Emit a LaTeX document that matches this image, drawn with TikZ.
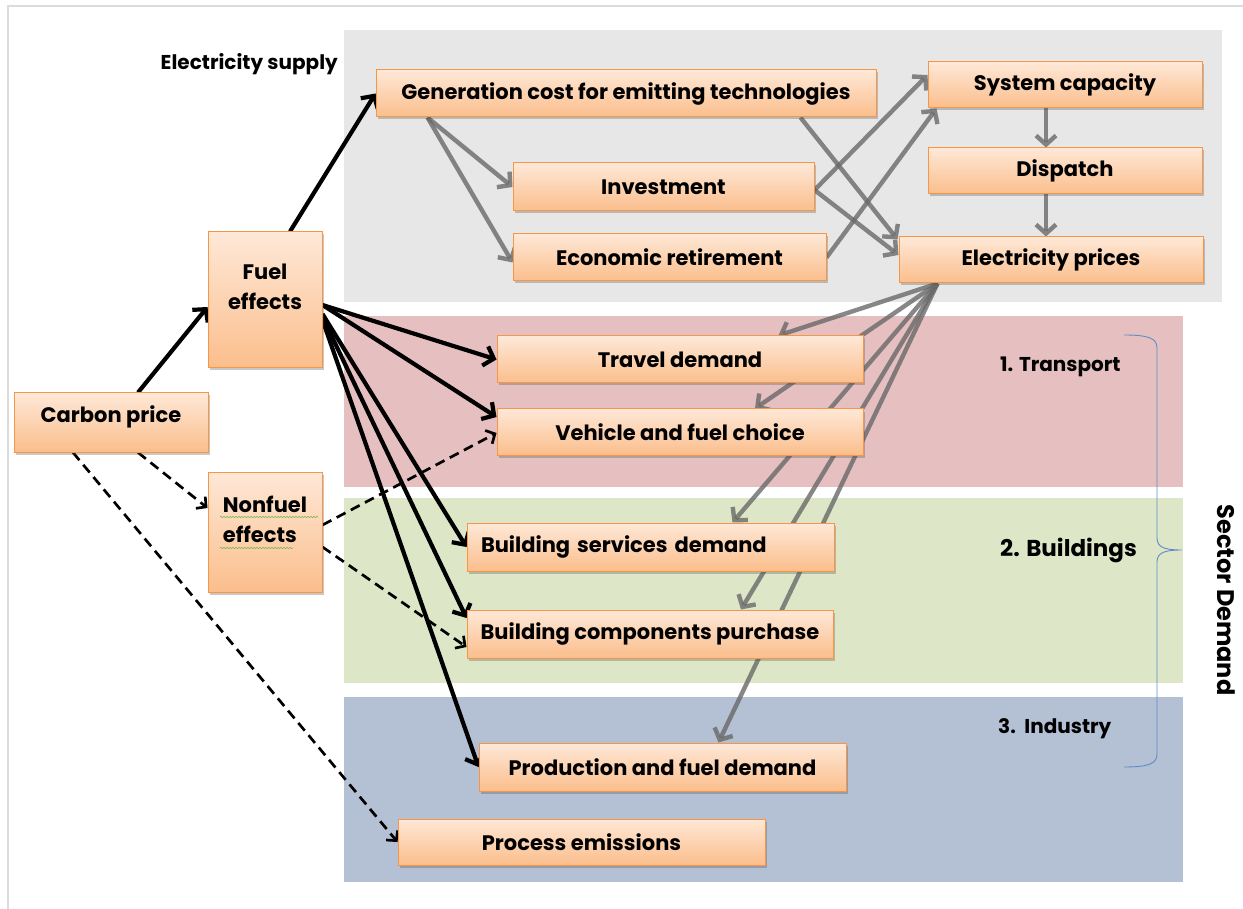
\documentclass[tikz,border=0pt]{standalone}
\usepackage{fontspec}
\setmainfont{Poppins}
\usetikzlibrary{arrows.meta,shadows,decorations.pathmorphing}
\definecolor{boxtop}{RGB}{254,232,215}
\definecolor{boxbot}{RGB}{251,190,140}
\definecolor{boxedge}{RGB}{247,150,70}
\definecolor{supplybg}{RGB}{231,231,231}
\definecolor{transbg}{RGB}{230,192,192}
\definecolor{buildbg}{RGB}{221,231,199}
\definecolor{indbg}{RGB}{180,192,211}
\definecolor{bracecol}{RGB}{95,140,200}
\definecolor{flowgray}{RGB}{105,105,105}
\definecolor{spellgreen}{RGB}{120,185,80}
\pgfdeclarelayer{bg}
\pgfdeclarelayer{arr}
\pgfsetlayers{bg,arr,main}
\newcommand{\lifted}[2]{\raisebox{#1}[0pt][0pt]{#2}}
\begin{document}
\begin{tikzpicture}[x=1pt,y=-1pt,
  box/.style={draw=boxedge, line width=1pt, top color=boxtop, bottom color=boxbot,
    drop shadow={shadow xshift=2pt, shadow yshift=-2.5pt, opacity=0.3, fill=black!70},
    inner sep=0pt, align=center, font=\bfseries\fontsize{21}{25}\selectfont},
  lbl/.style={inner sep=0pt, font=\bfseries\fontsize{20}{24}\selectfont},
  blk/.style={line width=4.2pt, black, -{Straight Barb[length=9pt,width=20pt]}},
  dsh/.style={line width=2.7pt, black, dash pattern=on 10pt off 6pt, -{Straight Barb[length=7pt,width=15pt]}},
  gry/.style={line width=4.4pt, flowgray, opacity=0.8, -{Straight Barb[length=9pt,width=20pt]}},
  spell/.style={spellgreen, line width=0.6pt, decorate, decoration={snake, amplitude=0.7pt, segment length=3pt}}
]
\useasboundingbox (0,0) rectangle (1243,909);
\begin{pgfonlayer}{bg}
  \fill[white] (0,0) rectangle (1243,909);
  \draw[black!14, line width=2pt] (8,6) rectangle (1260,930);
  \fill[supplybg] (344,30) rectangle (1222,302);
  \fill[transbg] (344,316) rectangle (1183,487);
  \fill[buildbg] (344,498) rectangle (1183,683);
  \fill[indbg] (344,697) rectangle (1183,882);
\end{pgfonlayer}

% boxes
\node[box, minimum width=500pt, minimum height=47pt] (gen) at (626,93.5) {Generation cost for emitting technologies};
\node[box, minimum width=274pt, minimum height=46pt] (cap) at (1065,85) {System capacity};
\node[box, minimum width=274pt, minimum height=46pt] (disp) at (1065,171) {Dispatch};
\node[box, minimum width=301pt, minimum height=48pt] (inv) at (663.5,187) {Investment};
\node[box, minimum width=313pt, minimum height=47pt] (ret) at (669.5,257.5) {Economic retirement};
\node[box, minimum width=304pt, minimum height=46pt] (elec) at (1051,260) {Electricity prices};
\node[box, minimum width=114pt, minimum height=136pt] (fuel) at (265,300) {\lifted{5pt}{\begin{tabular}{@{}c@{}}Fuel\\[5pt]effects\end{tabular}}};
\node[box, minimum width=194pt, minimum height=59pt] (carbon) at (111,422.5) {\lifted{0pt}{Carbon price}};
\node[box, minimum width=114pt, minimum height=120pt] (nonfuel) at (265,532) {\lifted{4pt}{\begin{tabular}{@{}l@{}}Nonfuel\\[5pt]effects\end{tabular}}};
\node[box, minimum width=366pt, minimum height=47pt] (travel) at (680,359.5) {Travel demand};
\node[box, minimum width=366pt, minimum height=46pt] (vehicle) at (680,432) {Vehicle and fuel choice};
\node[box, minimum width=367pt, minimum height=48pt, text width=339pt, align=left] (serv) at (650.5,547) {Building services demand};
\node[box, minimum width=366pt, minimum height=48pt] (comp) at (650,634) {Building components purchase};
\node[box, minimum width=367pt, minimum height=48pt] (prod) at (662.5,767) {Production and fuel demand};
\node[box, minimum width=367pt, minimum height=46pt] (proc) at (581.5,842) {Process emissions};

% spell-check marks under the nonfuel label
\draw[spell] (220,517) -- (318,517);
\draw[spell] (220,548) -- (293,548);

% section labels
\node[lbl, anchor=east] (supply) at (338,64) {Electricity supply};
\node[lbl, anchor=west] (trans) at (1000,367) {1. Transport};
\node[lbl, anchor=west, font=\bfseries\fontsize{23}{26}\selectfont] (build) at (1000,550) {2. Buildings};
\node[lbl, anchor=west] (ind) at (998,729) {3.\ \ Industry};
\node[lbl, rotate=-90, font=\bfseries\fontsize{24}{28}\selectfont] (sector) at (1226,600) {Sector Demand};

% brace grouping the sectors
\draw[bracecol, line width=0.9pt] (1124,335) .. controls (1148,335) and (1157,338) .. (1157,348)
  -- (1157,538) .. controls (1157,548) and (1166,550) .. (1182,550)
  .. controls (1166,550) and (1157,552) .. (1157,562)
  -- (1157,754) .. controls (1157,764) and (1148,767) .. (1124,767);

\begin{pgfonlayer}{arr}
  % fuel price pathways
  \draw[blk] ([xshift=27pt]carbon.north) -- ([yshift=-7pt]fuel.west);
  \draw[blk] ([xshift=25pt]fuel.north) -- (gen.west);
  \draw[blk] ([yshift=-5pt]fuel.east) -- (travel.west);
  \draw[blk] ([yshift=-5pt]fuel.east) -- ([yshift=15pt]vehicle.west);
  \draw[blk] ([yshift=-14pt]fuel.east) -- (serv.west);
  \draw[blk] ([yshift=-17pt]fuel.east) -- ([yshift=16pt]comp.west);
  \draw[blk] ([yshift=-20pt]fuel.east) -- (prod.west);
  % non-fuel pathways
  \draw[dsh] ([xshift=27pt]carbon.south) -- ([yshift=24pt]nonfuel.west);
  \draw[dsh] ([xshift=-38pt]carbon.south) -- (proc.west);
  \draw[dsh] ([yshift=7pt]nonfuel.east) -- ([yshift=-1pt]vehicle.west);
  \draw[dsh] ([yshift=-15pt]nonfuel.east) -- ([yshift=-13pt]comp.west);
  % electricity supply
  \draw[gry] ([xshift=52pt]gen.south west) -- (inv.west);
  \draw[gry] ([xshift=52pt]gen.south west) -- ([yshift=-5pt]ret.west);
  \draw[gry] ([xshift=-76pt]gen.south east) -- ([xshift=-1pt,yshift=-3pt]elec.north west);
  \draw[gry] ([yshift=-3pt]inv.east) -- ([yshift=10pt]cap.west);
  \draw[gry] ([yshift=-3pt]inv.east) -- ([yshift=5pt]elec.west);
  \draw[gry] (ret.east) -- ([xshift=9pt]cap.south west);
  \draw[gry] ([xshift=-19pt]cap.south) -- ([xshift=-19pt]disp.north);
  \draw[gry] ([xshift=-19pt]disp.south) -- ([xshift=-5pt]elec.north);
  % electricity prices into sector demand
  \draw[gry] ([xshift=39pt]elec.south west) -- ([xshift=-85pt]travel.north east);
  \draw[gry] ([xshift=39pt]elec.south west) -- ([xshift=75pt]vehicle.north);
  \draw[gry] ([xshift=39pt]elec.south west) -- ([xshift=82pt]serv.north);
  \draw[gry] ([xshift=39pt]elec.south west) -- ([xshift=91pt]comp.north);
  \draw[gry] ([xshift=39pt]elec.south west) -- ([xshift=56pt]prod.north);
\end{pgfonlayer}
\end{tikzpicture}
\end{document}
